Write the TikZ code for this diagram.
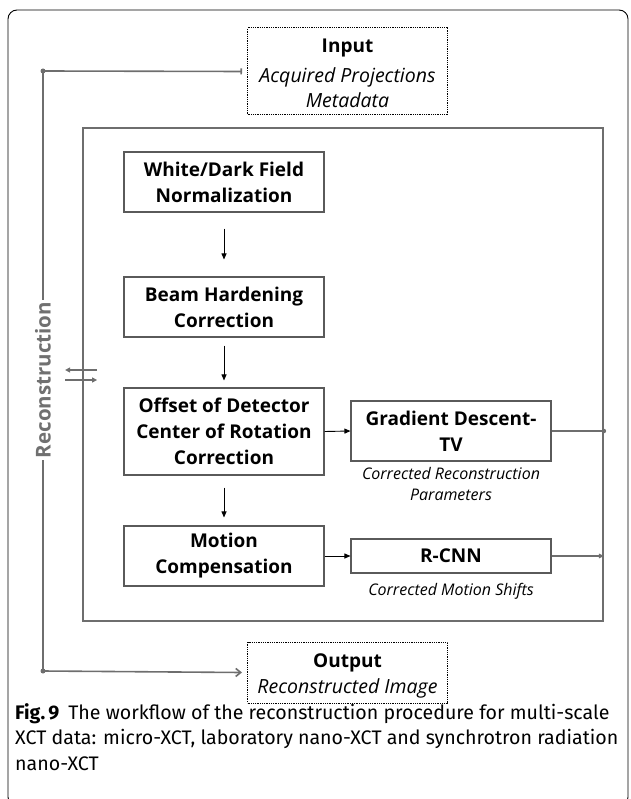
\documentclass[tikz,border=0pt]{standalone}
\usepackage{fontspec}
\usetikzlibrary{arrows.meta,calc}
\newfontfamily\os{Open Sans}
\newfontfamily\capfont{Fira Sans}
\definecolor{boxgray}{HTML}{5A5A5A}
\definecolor{linegray}{HTML}{6E6E6E}
\definecolor{recgray}{HTML}{707070}
\tikzset{
  proc/.style={draw=boxgray, line width=1.1pt, fill=white, align=center,
    font=\os\bfseries\fontsize{19}{26}\selectfont, minimum width=200pt, inner sep=0pt},
  io/.style={draw=black, dash pattern=on 0.9pt off 0.9pt, line width=1pt, align=center, minimum width=200pt, inner sep=0pt},
  sub/.style={align=center, font=\os\itshape\fontsize{16}{21.5}\selectfont, inner sep=0pt},
  iosub/.style={align=center, font=\os\itshape\fontsize{19.5}{25}\selectfont, inner sep=0pt},
  iotitle/.style={font=\os\bfseries\fontsize{19}{20}\selectfont, inner sep=0pt},
  flow/.style={draw=black, line width=0.9pt, -{Triangle[length=6pt,width=5pt]}},
  fb/.style={draw=linegray, line width=1.6pt},
  dotmark/.style={circle, fill=linegray, inner sep=0pt, minimum size=5pt},
}
\begin{document}
\begin{tikzpicture}[x=1pt, y={(0pt,-1pt)}]
\useasboundingbox (0,0) rectangle (630,799);
\begin{scope}
\clip (0,0) rectangle (630,799);
\draw[black, line width=0.9pt, rounded corners=9pt] (8,10) rectangle (628,806);
\end{scope}

% input / output
\node[io, minimum height=87pt] (input) at (347.5,71.5) {};
\node[iotitle] (intitle) at (347.5,48) {Input};
\node[iosub] (insub) at (347.5,88) {Acquired Projections\\Metadata};

\node[io, minimum height=61pt] (output) at (347.5,672.5) {};
\node[iotitle] (outtitle) at (347.5,663) {Output};
\node[iosub] (outsub) at (347.5,688) {Reconstructed Image};

% main container
\node[draw=linegray, line width=1.8pt, minimum width=520pt, minimum height=493pt, inner sep=0pt] (main) at (343,374.5) {};

% process boxes
\node[proc, minimum height=60pt] (b1) at (224,182) {White/Dark Field\\Normalization};
\node[proc, minimum height=60pt] (b2) at (224,307) {Beam Hardening\\Correction};
\node[proc, minimum height=87pt] (b3) at (224,431.5) {Offset of Detector\\Center of Rotation\\Correction};
\node[proc, minimum height=60pt] (b4) at (224,556) {Motion\\Compensation};
\node[proc, minimum height=60pt] (gd) at (451,431) {Gradient Descent-\\TV};
\node[proc, minimum height=34pt] (rcnn) at (451,556) {R-CNN};
\node[sub, anchor=north] (gdsub) at (451,467) {Corrected Reconstruction\\Parameters};
\node[sub, anchor=north] (rcsub) at (451,583) {Corrected Motion Shifts};

% flow arrows
\draw[flow] ($(b1.south)+(0,16)$) -- ($(b2.north)+(0,-17)$);
\draw[flow] ($(b2.south)+(0,8)$) -- ($(b3.north)+(0,-7)$);
\draw[flow] ($(b3.south)+(0,12)$) -- ($(b4.north)+(0,-8)$);
\draw[flow] (b3.east) -- (gd.west);
\draw[flow] (b4.east) -- (rcnn.west);

% outputs of boxes to container edge
\coordinate (gdend) at (main.east |- gd.east);
\coordinate (rcend) at (main.east |- rcnn.east);
\draw[fb, line width=1.3pt] (gd.east) -- (gdend);
\node[dotmark, minimum size=4.5pt] (gddot) at (gdend) {};
\draw[fb, line width=1.3pt, -{Triangle[length=5pt,width=4.5pt]}] (rcnn.east) -- (rcend);

% feedback loop
\coordinate (fbtop) at (43,71);
\coordinate (fbbot) at (43,671);
\draw[fb] (fbtop) -- (fbbot);
\draw[fb, -{Bar[width=6pt]}] (fbtop) -- ($(input.west)+(-5,0)$);
\draw[fb, -{Straight Barb[length=5pt,width=8pt]}] (fbbot) -- ($(output.west)+(-5,0)$);
\node[dotmark] (topdot) at (fbtop) {};
\node[dotmark] (botdot) at (fbbot) {};
\node[rotate=90, fill=white, text=recgray, font=\os\bfseries\fontsize{20.5}{22}\selectfont, inner sep=1.5pt] (recon) at (43,380) {Reconstruction};

% exchange arrows at container edge
\coordinate (ea1) at ($(main.west |- 0,370)+(15,0)$);
\coordinate (ea2) at ($(main.west |- 0,370)+(-17,0)$);
\coordinate (eb1) at ($(main.west |- 0,380)+(-17,0)$);
\coordinate (eb2) at ($(main.west |- 0,380)+(15,0)$);
\draw[fb, line width=1.3pt, -{Triangle[length=5pt,width=5pt]}] (ea1) -- (ea2);
\draw[fb, line width=1.3pt, -{Triangle[length=5pt,width=5pt]}] (eb1) -- (eb2);

% caption
\node[anchor=north west, align=left, inner sep=0pt, font=\capfont\fontsize{19.6}{25.5}\selectfont] (caption) at (15,703)
 {{\bfseries Fig.\,9}\hspace{0.45em}The workflow of the reconstruction procedure for multi-scale\\
  XCT data: micro-XCT, laboratory nano-XCT and synchrotron radiation\\
  nano-XCT};
\end{tikzpicture}
\end{document}
